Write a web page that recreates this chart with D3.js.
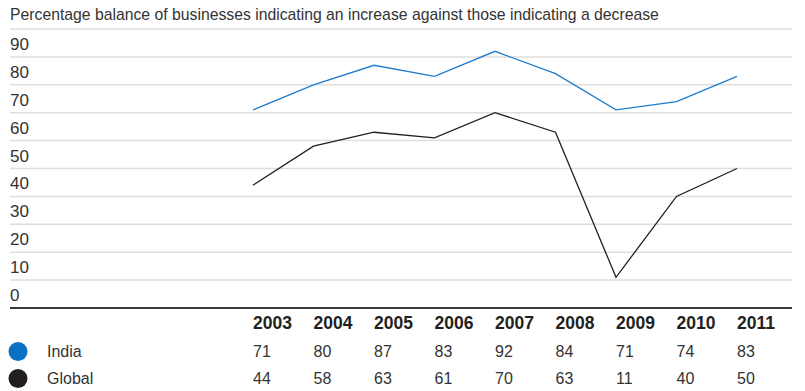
<!DOCTYPE html>
<html>
<head>
<meta charset="utf-8">
<script src="https://cdn.jsdelivr.net/npm/d3@7"></script>
<style>
  html, body { margin: 0; padding: 0; background: #fff; }
  svg { display: block; font-family: "Liberation Sans", Arial, sans-serif; }
</style>
</head>
<body>
<svg id="chart" width="805" height="391"></svg>
<script>
// Balance of business expectations, India vs. global
const years = [2003, 2004, 2005, 2006, 2007, 2008, 2009, 2010, 2011];
const india = [71, 80, 87, 83, 92, 84, 71, 74, 83];
const global = [44, 58, 63, 61, 70, 63, 11, 40, 50];
const yTicks = [0, 10, 20, 30, 40, 50, 60, 70, 80, 90];
const gridValues = [10, 20, 30, 40, 50, 60, 70, 80, 90, 100];
const seriesNames = ["India", "Global"];
const seriesColors = ["#1f7ccc", "#231f20"];
const subtitle = "Percentage balance of businesses indicating an increase against those indicating a decrease";

const svg = d3.select("#chart");
const left = 10, right = 792;

const x = d3.scalePoint().domain(years).range([253, 737]);
const y = d3.scaleLinear().domain([0, 100]).range([308, 29]);

// subtitle
svg.append("text")
  .attr("x", 10).attr("y", 19.5)
  .attr("font-size", 15.75).attr("fill", "#333")
  .text(subtitle);

// horizontal gridlines
svg.append("g").selectAll("line").data(gridValues).join("line")
  .attr("x1", left).attr("x2", right)
  .attr("y1", d => y(d)).attr("y2", d => y(d))
  .attr("stroke", "#dedede").attr("stroke-width", 1.5);

// zero baseline
svg.append("line")
  .attr("x1", left).attr("x2", right)
  .attr("y1", y(0)).attr("y2", y(0))
  .attr("stroke", "#3a3a3a").attr("stroke-width", 2);

// y-axis labels sit in the band above each gridline
svg.append("g").selectAll("text").data(yTicks).join("text")
  .attr("x", 10).attr("y", d => y(d) - 7)
  .attr("font-size", 17).attr("fill", "#333")
  .text(d => d);

// lines
const line = d3.line().x((d, i) => x(years[i])).y(d => y(d));
[india, global].forEach((vals, k) => {
  svg.append("path")
    .datum(vals)
    .attr("d", line)
    .attr("fill", "none")
    .attr("stroke", seriesColors[k])
    .attr("stroke-width", 1.3)
    .attr("stroke-linejoin", "miter");
});

// data table: year header row
svg.append("g").selectAll("text").data(years).join("text")
  .attr("x", d => x(d)).attr("y", 329)
  .attr("font-size", 17.5).attr("font-weight", "bold").attr("fill", "#231f20")
  .text(d => d);

// table rows with legend markers
const rowY = [357, 384];
[india, global].forEach((vals, k) => {
  svg.append("circle")
    .attr("cx", 18).attr("cy", rowY[k] - 5.5).attr("r", 9.5)
    .attr("fill", k === 0 ? "#0a72c4" : "#231f20");
  svg.append("text")
    .attr("x", 47).attr("y", rowY[k])
    .attr("font-size", 16).attr("fill", "#333")
    .text(seriesNames[k]);
  svg.append("g").selectAll("text").data(vals).join("text")
    .attr("x", (d, i) => x(years[i])).attr("y", rowY[k])
    .attr("font-size", 16).attr("fill", "#333")
    .text(d => d);
});
</script>
</body>
</html>
